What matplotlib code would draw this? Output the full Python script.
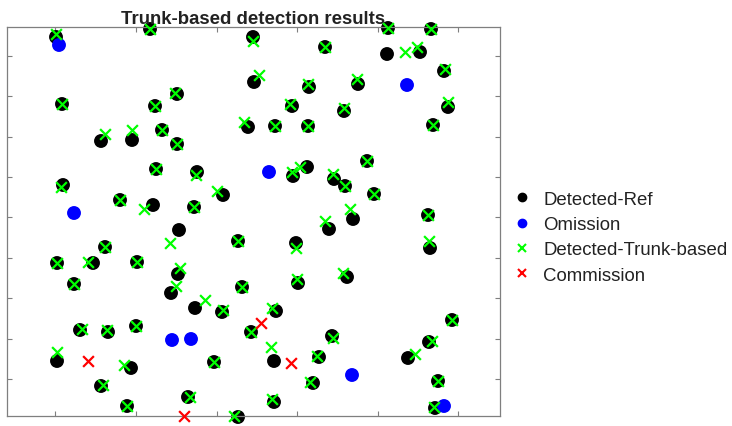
import matplotlib
matplotlib.use("Agg")
import matplotlib.pyplot as plt
from matplotlib.lines import Line2D

plt.rcParams['font.family'] = ['Liberation Sans', 'DejaVu Sans']

# reference trees (detected)
ref_x = [49, 143, 55, 148, 94, 125, 155, 149, 56, 113, 146, 246, 318, 247, 302, 170,
         285, 241, 268, 301, 170, 190, 286, 300, 216, 187, 381, 424, 380, 413, 437, 351,
         441, 337, 426, 360, 327, 338, 367, 346, 421, 98, 50, 86, 130, 67, 73, 101,
         129, 50, 124, 94, 120, 172, 231, 289, 322, 171, 164, 235, 291, 188, 215, 269,
         244, 325, 207, 267, 312, 306, 181, 267, 231, 423, 340, 445, 422, 401, 431, 428]
ref_y = [379, 387, 312, 310, 275, 276, 286, 247, 231, 216, 211, 379, 369, 334, 329, 322,
         310, 289, 290, 290, 272, 244, 240, 249, 221, 209, 388, 387, 362, 364, 345, 332,
         309, 305, 291, 255, 237, 230, 222, 197, 201, 169, 153, 153, 154, 132, 86, 84,
         90, 55, 48, 30, 10, 186, 175, 173, 187, 142, 123, 129, 133, 108, 104, 105,
         84, 80, 54, 55, 59, 33, 19, 14, -1, 168, 139, 96, 74, 58, 35, 8]

# omission
om_x = [52, 67, 262, 400, 165, 184, 345, 437]
om_y = [371, 203, 244, 331, 76, 77, 41, 10]

# trunk-based detections
tb_x = [49, 143, 55, 148, 98, 125, 155, 149, 54, 113, 137, 246, 318, 252, 301, 168,
        283, 237, 268, 301, 170, 189, 285, 293, 210, 187, 381, 424, 398, 410, 438, 350,
        441, 337, 426, 360, 326, 338, 367, 343, 421, 98, 50, 81, 130, 67, 75, 100,
        129, 50, 117, 96, 120, 163, 231, 289, 318, 173, 169, 235, 290, 198, 216, 265,
        244, 326, 207, 264, 310, 303, 183, 265, 227, 422, 336, 445, 425, 408, 431, 427]
tb_y = [382, 387, 312, 310, 282, 286, 286, 247, 229, 216, 207, 375, 369, 341, 332, 323,
        312, 294, 290, 290, 272, 241, 244, 249, 225, 209, 388, 387, 364, 369, 347, 337,
        314, 308, 291, 255, 242, 230, 222, 207, 201, 169, 153, 154, 154, 132, 87, 86,
        90, 64, 51, 31, 10, 173, 175, 168, 195, 148, 130, 129, 137, 116, 106, 108,
        84, 78, 54, 69, 60, 34, 19, 17, 0, 175, 143, 96, 75, 62, 35, 9]

# commission
com_x = [81, 254, 284, 177]
com_y = [55, 93, 53, 0]

labels = ['Detected-Ref', 'Omission', 'Detected-Trunk-based', 'Commission']

fig = plt.figure(figsize=(7.32, 4.27), dpi=100)
ax = fig.add_axes([7 / 732, 10 / 427, 493 / 732, 389 / 427])

ax.scatter(ref_x, ref_y, s=100, c='black', edgecolors='none', clip_on=False, zorder=2)
ax.scatter(om_x, om_y, s=100, c='#0000ff', edgecolors='none', clip_on=False, zorder=3)
ax.scatter(tb_x, tb_y, s=60, c='#00ff00', marker='x', linewidths=1.6, clip_on=False, zorder=4)
ax.scatter(com_x, com_y, s=60, c='#ff0000', marker='x', linewidths=1.6, clip_on=False, zorder=5)

ax.set_xlim(0, 493)
ax.set_ylim(0, 389)
ax.set_xticks([48, 129, 210, 290, 371, 451])
ax.set_yticks([37, 77, 118, 158, 199, 239, 279, 320, 360])
ax.tick_params(direction='in', length=3.5, width=0.8, color='#7f7f7f',
               top=True, right=True, labelbottom=False, labelleft=False)
for sp in ax.spines.values():
    sp.set_color('#7f7f7f')
    sp.set_linewidth(0.9)

ax.set_title('Trunk-based detection results', fontsize=13.4, fontweight='bold',
             color='#222222', pad=-1)

handles = [
    Line2D([], [], ls='none', marker='o', color='black', markersize=6),
    Line2D([], [], ls='none', marker='o', color='#0000ff', markersize=6),
    Line2D([], [], ls='none', marker='x', color='#00ff00', markersize=5.5, mew=1.5),
    Line2D([], [], ls='none', marker='x', color='#ff0000', markersize=5.5, mew=1.5),
]
fig.legend(handles, labels, loc='center left', bbox_to_anchor=(513 / 732, 0.442),
           frameon=False, fontsize=13.4, handlelength=1.0, handletextpad=0.62,
           labelspacing=0.45, borderpad=0, borderaxespad=0, labelcolor='#222222')

fig.savefig('out.png', dpi=100)
